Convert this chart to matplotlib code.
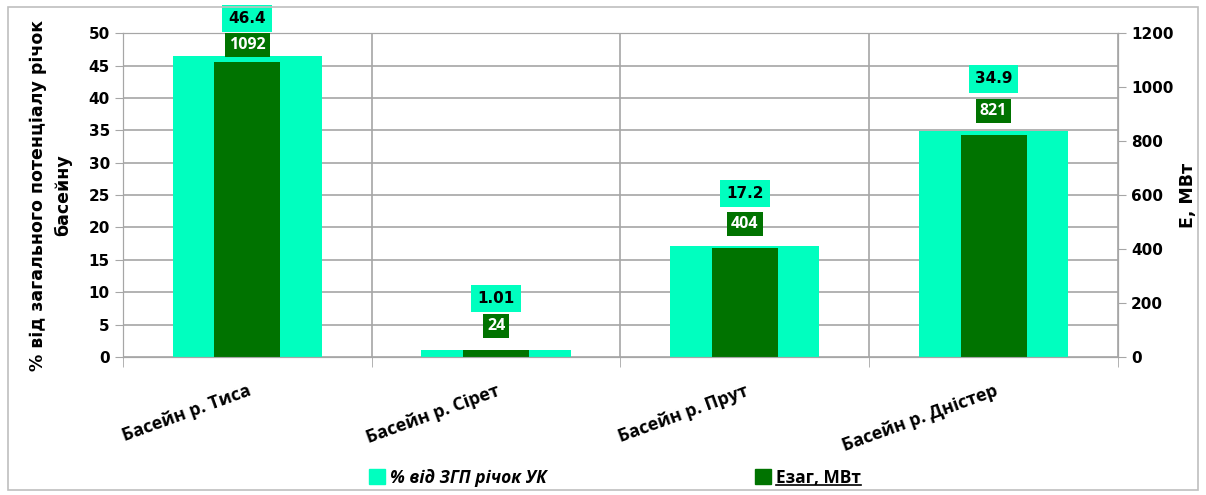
import matplotlib.pyplot as plt
import matplotlib.transforms as mtransforms
from matplotlib.patches import Rectangle, Patch
import numpy as np

basins = ['Басейн р. Тиса', 'Басейн р. Сірет', 'Басейн р. Прут', 'Басейн р. Дністер']
share_pct = [46.4, 1.01, 17.2, 34.9]
power_mw = [1092, 24, 404, 821]
share_labels = ['46.4', '1.01', '17.2', '34.9']

light = '#00FFBF'
dark = '#007300'
grid_c = '#A6A6A6'

fig = plt.figure(figsize=(12.06, 4.95), dpi=100)
ax = fig.add_axes([0.102, 0.279, 0.825, 0.654])
ax2 = ax.twinx()

x = np.arange(len(basins))
ax.bar(x, share_pct, width=0.6, color=light, zorder=2)
ax2.bar(x, power_mw, width=0.265, color=dark, zorder=2)

ax.set_xlim(-0.5, len(basins) - 0.5)
ax.set_ylim(0, 50)
ax.set_yticks(np.arange(0, 51, 5))
ax2.set_ylim(0, 1200)
ax2.set_yticks(np.arange(0, 1201, 200))

ax.set_xticks(x)
ax.set_xticklabels(basins, rotation=20, ha='right', rotation_mode='anchor',
                   fontsize=13, fontweight='bold', family='Open Sans')
ax.set_xticks(np.arange(-0.5, len(basins), 1), minor=True)
ax.tick_params(axis='x', which='major', length=0, pad=18)
ax.tick_params(axis='x', which='minor', length=7, color=grid_c)
ax.grid(axis='y', color=grid_c, linewidth=1.2, zorder=0)
ax.grid(axis='x', which='minor', color=grid_c, linewidth=1.2, zorder=0)
ax.set_axisbelow(True)

for a in (ax, ax2):
    for s in a.spines.values():
        s.set_color(grid_c)
    a.tick_params(axis='y', length=6, color=grid_c, labelsize=11)
    for t in a.get_yticklabels():
        t.set_fontweight('bold')

ax.set_ylabel('% від загального потенціалу річок\nбасейну', fontsize=12.5,
              fontweight='bold', labelpad=12, linespacing=1.5)
ax2.set_ylabel('Е, МВт', fontsize=12.5, fontweight='bold', labelpad=4)

# data labels, clamped near the top like the original
trans = mtransforms.blended_transform_factory(ax.transData, ax.transAxes)
for i in range(len(basins)):
    y1 = min(share_pct[i] / 50 + 52 / 324, 1.046)
    y2 = min(power_mw[i] / 1200 + 24 / 324, 0.963)
    ax2.text(x[i], y1, share_labels[i], transform=trans, ha='center', va='center',
             fontsize=11, fontweight='bold', color='black', zorder=5,
             bbox=dict(boxstyle='square,pad=0.4', fc=light, ec='none'))
    ax2.text(x[i], y2, str(power_mw[i]), transform=trans, ha='center', va='center',
             fontsize=11.5, fontweight='bold', color='white', zorder=5, family='Open Sans',
             bbox=dict(boxstyle='square,pad=0.25', fc=dark, ec='none'))

handles = [Patch(color=light), Patch(color=dark)]
leg = fig.legend(handles, ['% від ЗГП річок УК', 'Езаг, МВт'], loc='center',
                 bbox_to_anchor=(0.51, 0.035), ncol=2, frameon=False,
                 prop={'size': 12.5, 'weight': 'bold', 'family': 'Open Sans'},
                 handlelength=0.9, handleheight=0.9, handletextpad=0.3,
                 columnspacing=12)
leg.get_texts()[0].set_style('italic')

fig.patches.append(Rectangle((0.007, 0.01), 0.986, 0.976, transform=fig.transFigure,
                             fill=False, ec='#BFBFBF', lw=1.2))

# underline the second legend entry
fig.canvas.draw()
bb = leg.get_texts()[1].get_window_extent().transformed(fig.transFigure.inverted())
fig.add_artist(plt.Line2D([bb.x0, bb.x1], [bb.y0 + 0.004, bb.y0 + 0.004],
                          transform=fig.transFigure, color='black', lw=1.2))

fig.savefig('out.png', dpi=100)
